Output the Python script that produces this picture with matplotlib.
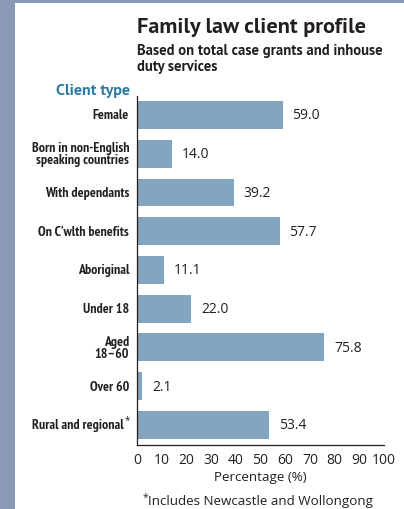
import warnings
import logging
import matplotlib
matplotlib.use("Agg")
import matplotlib.pyplot as plt
from matplotlib.patches import Rectangle
from matplotlib import transforms

logging.getLogger("matplotlib.font_manager").setLevel(logging.ERROR)
warnings.filterwarnings("ignore")

categories = [
    "Female",
    "Born in non-English\nspeaking countries",
    "With dependants",
    "On C\u2019wlth benefits",
    "Aboriginal",
    "Under 18",
    "Aged\n18\u201360",
    "Over 60",
    "Rural and regional",
]
values = [59.0, 14.0, 39.2, 57.7, 11.1, 22.0, 75.8, 2.1, 53.4]
xticks = [0, 10, 20, 30, 40, 50, 60, 70, 80, 90, 100]
footnoted = [False] * 8 + [True]

BAR = "#82a6c1"
FRAME = "#8a9ab4"
INK = "#231f20"
TEAL = "#2c7ba6"
NARROW = ["PT Sans Narrow", "Roboto Condensed", "Archivo Narrow", "DejaVu Sans"]
HEAD = ["PT Sans", "Open Sans", "DejaVu Sans"]
BODY = ["Open Sans", "DejaVu Sans"]

W, H = 404, 510
fig = plt.figure(figsize=(W / 100, H / 100), dpi=100)
fig.patch.set_facecolor("white")

# frame strips
fig.patches.append(Rectangle((0, 0), 15 / W, 1, transform=fig.transFigure,
                             facecolor=FRAME, edgecolor="none", zorder=0))
fig.patches.append(Rectangle((0, 1 - 4 / H), 1, 4 / H, transform=fig.transFigure,
                             facecolor=FRAME, edgecolor="none", zorder=0))

left, right, top, bottom = 137, 384, 97, 446
ax = fig.add_axes([left / W, 1 - bottom / H, (right - left) / W, (bottom - top) / H])

y = list(range(len(categories)))
ax.barh(y, values, height=0.72, color=BAR, edgecolor="none")
ax.set_xlim(0, 100)
ax.set_ylim(len(categories) - 0.48, -0.49)

for spine in ("top", "right"):
    ax.spines[spine].set_visible(False)
for spine in ("left", "bottom"):
    ax.spines[spine].set_color(INK)
    ax.spines[spine].set_linewidth(0.9)

ax.set_xticks(xticks)
ax.set_xticklabels([str(t) for t in xticks], family=BODY, fontsize=10, color=INK)
ax.tick_params(axis="x", length=0, pad=5)
ax.set_yticks([])
ax.set_xlabel("Percentage (%)", family=BODY, fontsize=9.6, color=INK, labelpad=2)

# category labels and value labels
ylab = transforms.blended_transform_factory(ax.transAxes, ax.transData)
for yi, (cat, val, star) in enumerate(zip(categories, values, footnoted)):
    dx = -8 / (right - left)
    if star:
        dx = -13 / (right - left)
        ax.annotate("*", xy=(dx, yi), xycoords=ylab, xytext=(0.3, 3.5),
                    textcoords="offset points", ha="left", va="center",
                    family=BODY, fontsize=7, color=INK)
    ax.text(dx, yi, cat, transform=ylab, ha="right", va="center",
            family=NARROW, fontweight="bold", fontsize=10, color=INK,
            linespacing=0.95)
    ax.annotate(f"{val:.1f}", xy=(val, yi), xytext=(7, 0),
                textcoords="offset points", ha="left", va="center",
                family=BODY, fontsize=10, color=INK)

# headings
fig.text(137 / W, 1 - 33 / H, "Family law client profile", family=HEAD,
         fontweight="bold", fontsize=16, color=INK, ha="left", va="baseline")
fig.text(137 / W, 1 - 55 / H, "Based on total case grants and inhouse",
         family=HEAD, fontweight="bold", fontsize=10.5, color=INK,
         ha="left", va="baseline")
fig.text(137 / W, 1 - 71 / H, "duty services", family=HEAD, fontweight="bold",
         fontsize=10.5, color=INK, ha="left", va="baseline")
fig.text(130 / W, 1 - 95 / H, "Client type", family=HEAD, fontweight="bold",
         fontsize=11.5, color=TEAL, ha="right", va="baseline")

# footnote
fig.text(143 / W, 1 - 500 / H, "*", family=BODY, fontsize=7.5, color=INK,
         ha="left", va="baseline")
fig.text(148 / W, 1 - 505 / H, "Includes Newcastle and Wollongong", family=BODY,
         fontsize=9.6, color=INK, ha="left", va="baseline")

fig.savefig("out.png", dpi=100, facecolor="white")
